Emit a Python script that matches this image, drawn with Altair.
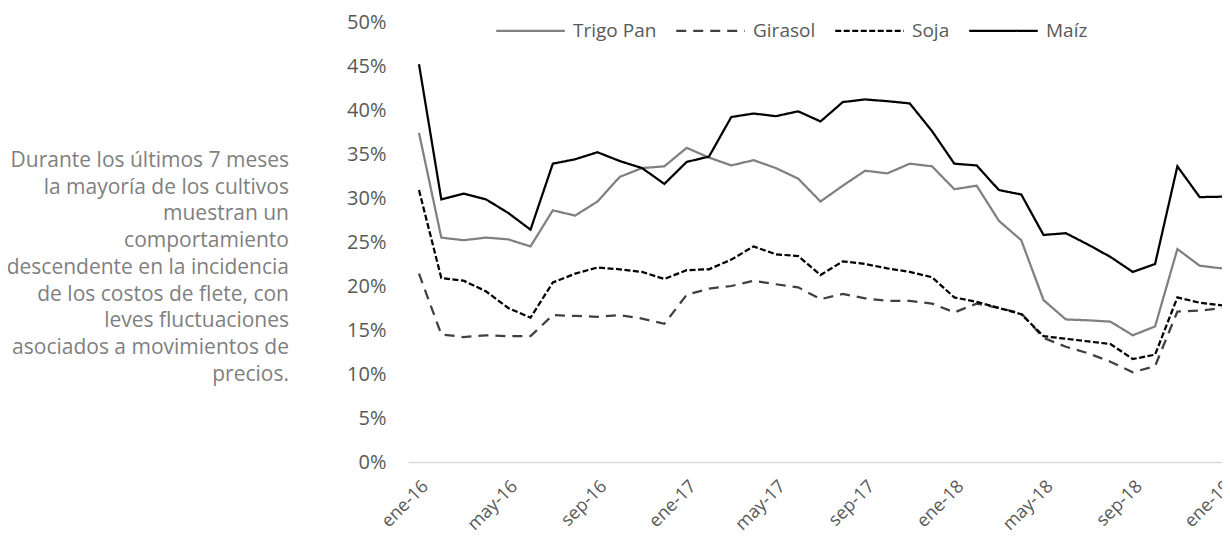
import altair as alt
import pandas as pd

months = [f"{m}-{y}" for y in ["16", "17", "18"] for m in
          ["ene", "feb", "mar", "abr", "may", "jun", "jul", "ago", "sep", "oct", "nov", "dic"]] + ["ene-19"]

trigo = [37.4, 25.5, 25.2, 25.5, 25.3, 24.5, 28.6, 28.0, 29.6, 32.4, 33.4, 33.6,
         35.7, 34.6, 33.7, 34.3, 33.4, 32.2, 29.6, 31.4, 33.1, 32.8, 33.9, 33.6,
         31.0, 31.4, 27.4, 25.2, 18.4, 16.2, 16.1, 15.95, 14.4, 15.4, 24.2, 22.3, 22.0]
girasol = [21.4, 14.5, 14.2, 14.4, 14.3, 14.3, 16.7, 16.6, 16.5, 16.7, 16.3, 15.7,
           19.0, 19.7, 20.0, 20.6, 20.2, 19.85, 18.5, 19.1, 18.6, 18.3, 18.3, 18.0,
           17.0, 18.0, 17.5, 16.9, 14.1, 13.1, 12.35, 11.4, 10.2, 10.9, 17.1, 17.2, 17.5]
soja = [30.9, 20.9, 20.6, 19.4, 17.5, 16.4, 20.4, 21.4, 22.1, 21.9, 21.6, 20.8,
        21.8, 21.9, 23.0, 24.5, 23.6, 23.4, 21.25, 22.8, 22.5, 22.0, 21.6, 21.0,
        18.7, 18.2, 17.5, 16.8, 14.3, 14.0, 13.7, 13.4, 11.7, 12.2, 18.7, 18.1, 17.8]
maiz = [45.2, 29.85, 30.5, 29.85, 28.3, 26.4, 33.9, 34.4, 35.2, 34.2, 33.4, 31.6,
        34.1, 34.7, 39.2, 39.6, 39.3, 39.85, 38.7, 40.9, 41.2, 41.0, 40.75, 37.6,
        33.9, 33.7, 30.9, 30.4, 25.8, 26.0, 24.7, 23.3, 21.6, 22.5, 33.6, 30.1, 30.15]

series_names = ["Trigo Pan", "Girasol", "Soja", "Maíz"]
series_values = [trigo, girasol, soja, maiz]
series_colors = ["#808080", "#404040", "#000000", "#000000"]
series_dashes = [[1, 0], [10, 7], [6, 2.5], [1, 0]]
series_widths = [2.25, 2.25, 2.25, 1.5]

tick_labels = ["ene-16", "may-16", "sep-16", "ene-17", "may-17",
               "sep-17", "ene-18", "may-18", "sep-18", "ene-19"]

note = ["Durante los últimos 7 meses", "la mayoría de los cultivos", "muestran un",
        "comportamiento", "descendente en la incidencia", "de los costos de flete, con",
        "leves fluctuaciones", "asociados a movimientos de", "precios."]

rows = []
for name, vals in zip(series_names, series_values):
    for i, v in enumerate(vals):
        rows.append({"idx": i, "mes": months[i], "Serie": name, "valor": v / 100})
df = pd.DataFrame(rows)

FONT = "Open Sans"
label_js = "[" + ",".join(f"'{t}'" for t in tick_labels) + "][round(datum.value/4)]"

lines = alt.Chart(df).mark_line(clip=True).encode(
    x=alt.X("idx:Q",
            scale=alt.Scale(domain=[-0.493, 36.0], nice=False, zero=False),
            axis=alt.Axis(values=list(range(0, 37, 4)), labelExpr=label_js,
                          title=None, grid=False, ticks=False,
                          domainColor="#d9d9d9", domainWidth=1.5,
                          labelAngle=-45, labelAlign="right", labelBaseline="top",
                          labelPadding=15, labelFont=FONT, labelFontSize=18,
                          labelColor="#595959", labelOverlap=False, labelBound=False,
                          labelFlush=False)),
    y=alt.Y("valor:Q",
            scale=alt.Scale(domain=[0, 0.5], nice=False),
            axis=alt.Axis(values=[i * 0.05 for i in range(11)], format=".0%",
                          title=None, grid=False, ticks=False, domain=False,
                          labelPadding=22, labelFont=FONT, labelFontSize=20,
                          labelColor="#595959")),
    color=alt.Color("Serie:N", scale=alt.Scale(domain=series_names, range=series_colors),
                    legend=alt.Legend(title=None, orient="none", direction="horizontal",
                                      legendX=87, legendY=-27, symbolType="stroke",
                                      symbolSize=4700, labelFont=FONT, labelFontSize=19,
                                      labelColor="#595959", labelOffset=7,
                                      columnPadding=14, symbolStrokeWidth=2.25)),
    strokeDash=alt.StrokeDash("Serie:N", scale=alt.Scale(domain=series_names, range=series_dashes)),
    strokeWidth=alt.StrokeWidth("Serie:N", scale=alt.Scale(domain=series_names, range=series_widths)),
    detail="Serie:N",
)

note_df = pd.DataFrame({"t": [note]})
text = alt.Chart(note_df).mark_text(
    align="right", baseline="middle", font=FONT, fontSize=21, color="#7f7f7f",
    lineHeight=26.7
).encode(text="t", x=alt.value(-119), y=alt.value(139))

chart = alt.layer(lines, text).properties(
    width=814, height=440,
    autosize=alt.AutoSizeParams(type="none"),
    padding={"left": 400, "top": 14, "right": 0, "bottom": 73},
).configure_view(stroke=None)

chart.save("out.html", embed_options={"renderer": "svg", "actions": False})
